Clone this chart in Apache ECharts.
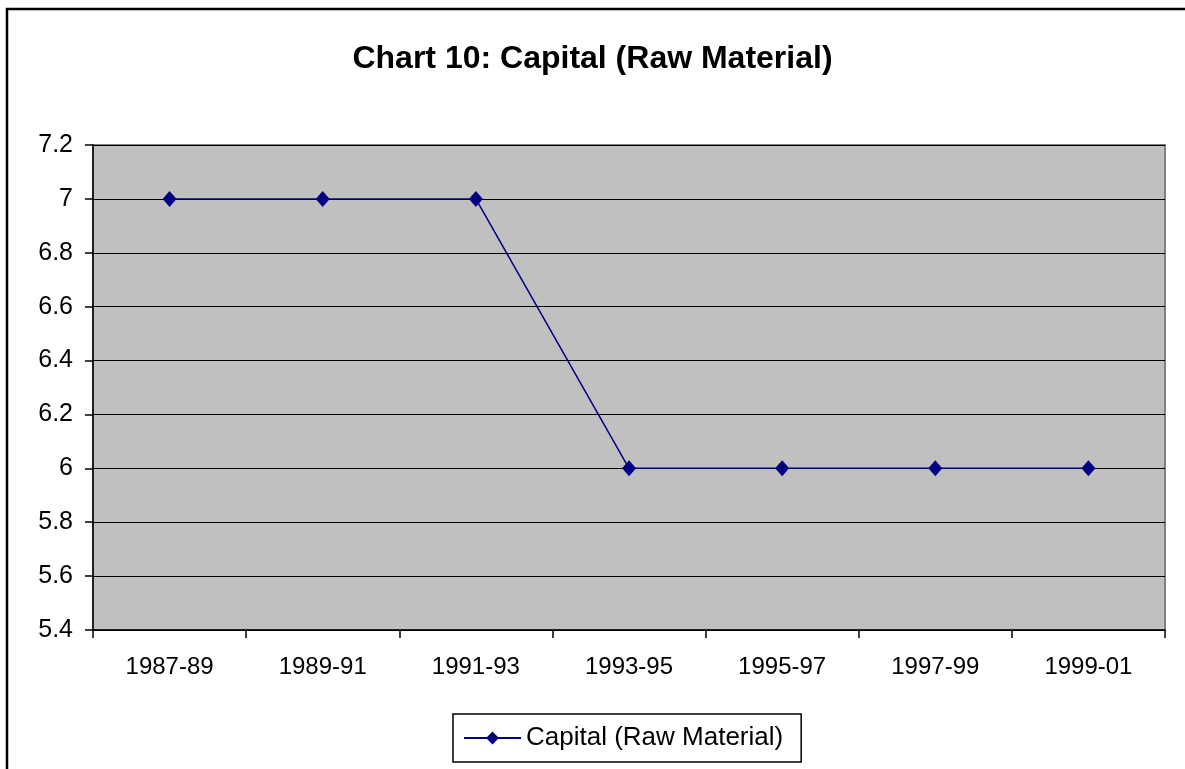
<!DOCTYPE html>
<html>
<head>
<meta charset="utf-8">
<script src="https://cdn.jsdelivr.net/npm/echarts@6/dist/echarts.min.js"></script>
<style>
  html, body { margin: 0; padding: 0; background: #fff; }
  #chart { width: 1185px; height: 769px; }
</style>
</head>
<body>
<div id="chart"></div>
<script>
// data
var periods = ["1987-89", "1989-91", "1991-93", "1993-95", "1995-97", "1997-99", "1999-01"];
var capitalRaw = [7, 7, 7, 6, 6, 6, 6];
var seriesName = "Capital (Raw Material)";

var myChart = echarts.init(document.getElementById("chart"));
var font = "Arial, 'Liberation Sans', sans-serif";

myChart.setOption({
  animation: false,
  title: {
    text: "Chart 10: Capital (Raw Material)",
    left: "center",
    top: 38,
    textStyle: { fontFamily: font, fontSize: 32, fontWeight: "bold", color: "#000" }
  },
  graphic: [{
    type: "rect",
    shape: { x: 7, y: 9, width: 1200, height: 800 },
    style: { fill: null, stroke: "#000", lineWidth: 2.5 },
    silent: true
  }],
  grid: {
    left: 93, right: 20, top: 145, bottom: 139,
    show: true,
    backgroundColor: "#C0C0C0",
    borderColor: "#808080",
    borderWidth: 2
  },
  legend: {
    data: [seriesName],
    left: 453,
    top: 714,
    padding: [11, 18, 11, 10],
    itemWidth: 57,
    itemHeight: 16,
    itemGap: 6,
    borderColor: "#000",
    borderWidth: 1.5,
    textStyle: { fontFamily: font, fontSize: 26, color: "#000" }
  },
  xAxis: {
    type: "category",
    data: periods,
    boundaryGap: true,
    axisLine: { lineStyle: { color: "#000", width: 1.5 } },
    axisTick: { show: true, length: 8, inside: false, lineStyle: { color: "#000", width: 1.5 } },
    axisLabel: { fontFamily: font, fontSize: 24, color: "#000", margin: 25 },
    splitLine: { show: false }
  },
  yAxis: {
    type: "value",
    min: 5.4,
    max: 7.2,
    interval: 0.2,
    axisLine: { show: true, lineStyle: { color: "#000", width: 1.5 } },
    axisTick: { show: true, length: 8, lineStyle: { color: "#000", width: 1.5 } },
    axisLabel: {
      fontFamily: font, fontSize: 25, color: "#000", margin: 20,
      formatter: function (value) {
        return +value.toFixed(1) + "";
      }
    },
    splitLine: { show: true, lineStyle: { color: "#000", width: 1 } }
  },
  series: [{
    name: seriesName,
    type: "line",
    data: capitalRaw,
    symbol: "diamond",
    symbolSize: [14, 16],
    lineStyle: { color: "#000080", width: 1.5 },
    itemStyle: { color: "#000080" }
  }]
});
</script>
</body>
</html>
